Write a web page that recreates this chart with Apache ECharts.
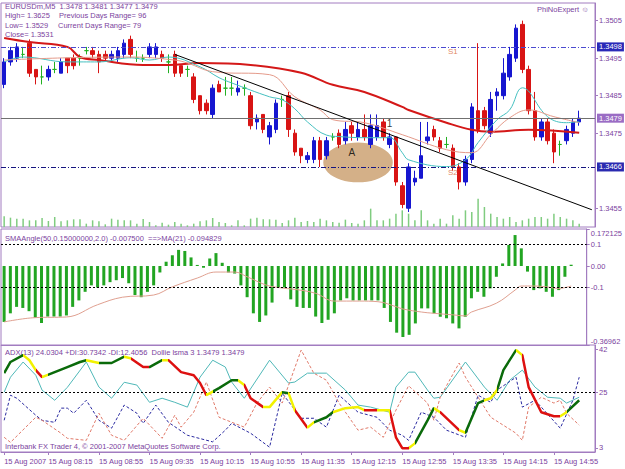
<!DOCTYPE html>
<html><head><meta charset="utf-8">
<script src="https://cdn.jsdelivr.net/npm/echarts@6/dist/echarts.min.js"></script>
<style>html,body{margin:0;padding:0;background:#fff}#c{width:625px;height:469px}</style>
</head><body><div id="c"></div>
<script>
// ---------- DATA ----------
const barTimes = (() => { const a = []; for (let k = 0; k < 94; k++) { const m = 7 * 60 + 40 + 5 * k; a.push(String(Math.floor(m / 60)).padStart(2, '0') + ':' + String(m % 60).padStart(2, '0')); } return a; })();
const timeTicks = ['07:40','08:15','08:55','09:35','10:15','10:55','11:35','12:15','12:55','13:35','14:15','14:55'];
const timeTickLabels = ['15 Aug 2007','15 Aug 08:15','15 Aug 08:55','15 Aug 09:35','15 Aug 10:15','15 Aug 10:55','15 Aug 11:35','15 Aug 12:15','15 Aug 12:55','15 Aug 13:35','15 Aug 14:15','15 Aug 14:55'];
const priceTicks = [1.3455, 1.3475, 1.3485, 1.3495, 1.3505];
const smaTicks = [-0.36962, -0.1, 0, 0.1, 0.172125];
const smaTickLabels = ['-0.36962', '-0.1', '0.00', '0.1', '0.172125'];
const adxTicks = [3, 25, 42];

const open  = [1.3488,1.3494,1.3495,1.3496,1.3499,1.3492,1.3490,1.3490,1.3492,1.3491,1.3495,1.3495,1.3495,1.3497,1.3497,1.3496,1.3496,1.3495,1.3495,1.3496,1.3500,1.3495,1.3495,1.3496,1.3496,1.3496,1.3494,1.3496,1.3493,1.3492,1.3490,1.3485,1.3483,1.3480,1.3488,1.3487,1.3487,1.3486,1.3487,1.3485,1.3478,1.3480,1.3474,1.3476,1.3484,1.3485,1.3475,1.3471,1.3468,1.3468,1.3473,1.3469,1.3474,1.3475,1.3473,1.3477,1.3474,1.3476,1.3472,1.3474,1.3478,1.3472,1.3474,1.3461,1.3455,1.3462,1.3463,1.3473,1.3476,1.3473,1.3472,1.3471,1.3466,1.3462,1.3468,1.3481,1.3481,1.3475,1.3485,1.3485,1.3490,1.3495,1.3504,1.3492,1.3481,1.3474,1.3478,1.3475,1.3472,1.3473,1.3475,1.3478];
const high  = [1.3495,1.3498,1.3499,1.3498,1.3500,1.3492,1.3493,1.3493,1.3494,1.3495,1.3495,1.3496,1.3496,1.3498,1.3498,1.3497,1.3497,1.3497,1.3498,1.3500,1.3501,1.3497,1.3496,1.3499,1.3499,1.3497,1.3496,1.3497,1.3493,1.3493,1.3491,1.3485,1.3484,1.3488,1.3489,1.3490,1.3490,1.3489,1.3488,1.3486,1.3480,1.3480,1.3478,1.3484,1.3485,1.3486,1.3476,1.3471,1.3470,1.3474,1.3474,1.3474,1.3475,1.3476,1.3478,1.3478,1.3478,1.3480,1.3480,1.3480,1.3479,1.3475,1.3474,1.3462,1.3467,1.3465,1.3478,1.3478,1.3477,1.3474,1.3474,1.3472,1.3467,1.3469,1.3483,1.3499,1.3482,1.3486,1.3487,1.3495,1.3498,1.3504,1.3505,1.3493,1.3486,1.3479,1.3479,1.3476,1.3473,1.3477,1.3479,1.3481];
const low   = [1.3487,1.3493,1.3494,1.3495,1.3490,1.3488,1.3488,1.3489,1.3491,1.3491,1.3491,1.3492,1.3493,1.3496,1.3495,1.3491,1.3494,1.3494,1.3494,1.3495,1.3495,1.3494,1.3494,1.3495,1.3495,1.3494,1.3491,1.3490,1.3490,1.3490,1.3483,1.3480,1.3480,1.3479,1.3486,1.3485,1.3485,1.3485,1.3485,1.3476,1.3476,1.3475,1.3472,1.3475,1.3482,1.3474,1.3469,1.3467,1.3467,1.3467,1.3466,1.3468,1.3473,1.3471,1.3472,1.3473,1.3473,1.3473,1.3471,1.3473,1.3473,1.3471,1.3461,1.3455,1.3454,1.3461,1.3463,1.3472,1.3473,1.3470,1.3471,1.3465,1.3460,1.3461,1.3467,1.3475,1.3476,1.3474,1.3481,1.3484,1.3489,1.3494,1.3491,1.3480,1.3473,1.3473,1.3472,1.3467,1.3469,1.3472,1.3474,1.3477];
const close = [1.3494,1.3497,1.3498,1.3496,1.3491,1.3490,1.3490,1.3492,1.3492,1.3494,1.3493,1.3493,1.3495,1.3497,1.3496,1.3494,1.3495,1.3496,1.3497,1.3499,1.3496,1.3495,1.3495,1.3498,1.3498,1.3495,1.3494,1.3491,1.3491,1.3492,1.3484,1.3481,1.3481,1.3487,1.3486,1.3487,1.3487,1.3487,1.3487,1.3477,1.3479,1.3476,1.3477,1.3483,1.3484,1.3476,1.3470,1.3469,1.3469,1.3473,1.3468,1.3473,1.3474,1.3472,1.3476,1.3475,1.3476,1.3474,1.3477,1.3477,1.3474,1.3474,1.3462,1.3456,1.3466,1.3463,1.3469,1.3474,1.3474,1.3471,1.3472,1.3466,1.3462,1.3468,1.3482,1.3476,1.3477,1.3484,1.3486,1.3491,1.3496,1.3503,1.3492,1.3481,1.3474,1.3478,1.3473,1.3470,1.3472,1.3476,1.3478,1.3479];
const volume = [32,28,25,25,20,20,27,18,30,17,20,23,23,10,20,17,8,25,22,20,20,10,24,15,5,13,7,15,10,5,10,17,20,27,15,12,5,20,5,25,28,23,23,22,12,20,28,15,18,15,25,20,15,13,22,12,10,20,55,20,20,25,40,50,40,20,50,20,10,25,10,35,25,50,45,85,60,40,30,25,30,15,20,25,30,30,25,40,30,25,20,10];

const maSlow = [[0,1.35004],[4,1.34993],[10,1.34980],[12,1.34953],[15,1.34945],[22,1.34932],[26,1.34932],[31,1.34937],[39,1.34932],[47,1.34911],[52,1.34879],[57,1.34860],[63,1.34820],[64,1.34812],[70,1.34778],[74,1.34759],[77,1.34754],[83,1.34759],[91,1.34751]];
const maFast = [[0,1.34940],[3,1.34953],[10,1.34940],[15,1.34940],[20,1.34951],[23,1.34945],[26,1.34953],[31,1.34927],[34,1.34898],[36,1.34884],[42,1.34847],[44,1.34839],[46,1.34815],[48,1.34780],[51,1.34745],[53,1.34741],[57,1.34738],[61,1.34738],[63,1.34698],[64,1.34679],[70,1.34661],[73,1.34679],[75,1.34725],[78,1.34786],[80,1.34812],[82,1.34871],[86,1.34794],[89,1.34778],[91,1.34781]];
const maMid = [[0,1.34945],[10,1.34951],[20,1.34953],[27,1.34945],[29,1.34937],[33,1.34914],[42,1.34906],[46,1.34847],[50,1.34812],[52,1.34786],[57,1.34778],[63,1.34746],[70,1.34706],[74,1.34698],[77,1.34746],[80,1.34791],[83,1.34812],[87,1.34794],[91,1.34778]];
const trendLine = [[27,1.34960],[93,1.34546]];
const levels = [1.3498, 1.3479, 1.3466];
const ellipse = [[56, 1.34672, 5.5, 0.00053]];
const notes = [{name:'S1', value:[71,1.34969]}, {name:'S2', value:[71,1.34644]}, {name:'A', value:[55,1.34699]}, {name:'1', value:[61,1.34777]}];

const smaAngle = [-0.26,-0.22,-0.19,-0.195,-0.21,-0.24,-0.265,-0.235,-0.235,-0.235,-0.23,-0.19,-0.16,-0.12,-0.09,-0.10,-0.09,-0.075,-0.066,-0.056,-0.08,-0.135,-0.145,-0.12,-0.09,-0.03,0.02,0.05,0.075,0.07,0.04,0.005,-0.008,0.035,0.06,0.015,-0.03,-0.035,-0.09,-0.145,-0.22,-0.26,-0.23,-0.17,-0.10,-0.10,-0.155,-0.19,-0.195,-0.195,-0.235,-0.265,-0.25,-0.22,-0.16,-0.15,-0.16,-0.16,-0.16,-0.16,-0.16,-0.195,-0.26,-0.31,-0.33,-0.32,-0.267,-0.197,-0.197,-0.22,-0.236,-0.243,-0.267,-0.29,-0.236,-0.15,-0.12,-0.143,-0.104,-0.05,0.012,0.098,0.144,0.082,-0.026,-0.112,-0.104,-0.12,-0.143,-0.112,-0.05,0.006];
const smaMA = [[0,-0.26],[5,-0.24],[10,-0.237],[15,-0.18],[19,-0.145],[24,-0.135],[27,-0.097],[31,-0.056],[34,-0.028],[37,-0.028],[39,-0.05],[42,-0.088],[44,-0.10],[47,-0.11],[50,-0.127],[53,-0.163],[57,-0.163],[60,-0.166],[63,-0.19],[64,-0.20],[67,-0.214],[69,-0.22],[72,-0.227],[74,-0.232],[75,-0.214],[79,-0.173],[82,-0.112],[83,-0.093],[85,-0.093],[87,-0.097],[89,-0.104],[91,-0.093]];

const adxLine = [[0,25.0],[1,30.9],[3,36.9],[5,31.7],[6,25.8],[8,21.8],[10,26.9],[13,36.9],[15,27.0],[17,22.6],[19,28.9],[21,27.8],[23,21.0],[25,22.6],[27,21.0],[29,19.1],[30,25.0],[31,30.9],[33,37.6],[35,34.9],[36,29.0],[38,22.6],[42,37.6],[45,28.6],[46,29.0],[48,32.5],[51,32.5],[54,25.8],[56,19.9],[58,19.1],[61,17.1],[62,27.0],[64,32.9],[65,32.9],[67,25.8],[68,22.6],[69,23.0],[73,36.9],[76,27.0],[78,21.8],[80,29.7],[82,33.7],[84,27.0],[86,23.0],[88,22.6],[89,20.7],[91,23.0]];
const plusDI = [[0,13.9],[1,23.8],[2,22.6],[5,15.9],[6,13.9],[8,13.1],[9,18.7],[10,18.7],[11,16.7],[13,21.8],[15,13.9],[17,10.8],[19,19.9],[21,16.7],[22,12.7],[24,19.9],[26,13.1],[29,8.0],[33,5.4],[35,10.0],[36,12.7],[39,8.8],[42,3.3],[44,24.6],[47,14.7],[49,14.7],[51,11.2],[53,23.8],[56,17.1],[59,15.1],[61,10.0],[63,8.0],[64,6.0],[66,17.1],[68,15.1],[70,10.0],[73,7.2],[75,23.8],[77,21.0],[78,25.8],[81,30.9],[82,19.1],[84,21.8],[85,19.1],[88,10.8],[90,21.8],[91,30.9]];
const minusDI = [[0,7.2],[1,5.2],[5,15.1],[6,13.9],[9,8.8],[10,6.8],[13,6.0],[15,16.7],[17,8.0],[19,6.0],[22,14.7],[25,6.8],[27,15.9],[28,11.2],[30,17.1],[32,29.0],[34,15.1],[38,11.2],[40,20.7],[42,27.0],[44,20.7],[47,41.6],[49,32.5],[51,29.7],[53,20.7],[56,10.0],[58,11.2],[60,7.2],[62,17.9],[64,27.5],[67,20.7],[68,13.9],[69,23.0],[72,36.5],[73,30.9],[77,15.1],[81,8.8],[82,6.0],[83,19.1],[85,23.0],[87,20.7],[88,21.8],[89,16.7],[91,12.0]];
const dollie = [[0,32.5],[1,36.9],[3,39.6],[4,37.6],[5,33.7],[6,30.9],[8,32.9],[10,34.9],[12,36.9],[13,37.6],[15,36.5],[17,36.5],[19,39.0],[20,38.4],[22,34.9],[23,34.9],[25,37.6],[26,37.6],[28,32.9],[30,31.7],[31,28.6],[32,23.8],[34,26.6],[36,29.7],[37,29.7],[38,27.8],[39,22.6],[41,19.1],[42,19.1],[44,25.0],[45,24.6],[46,17.9],[48,11.0],[49,13.1],[51,15.1],[52,17.1],[54,18.7],[56,19.1],[57,17.9],[59,17.9],[61,17.9],[62,7.2],[63,2.9],[64,2.9],[65,4.8],[67,13.9],[68,18.7],[69,17.1],[72,10.0],[73,9.0],[75,20.7],[76,21.8],[77,22.6],[78,25.8],[79,33.7],[81,41.6],[82,39.6],[83,27.0],[85,17.1],[87,15.5],[88,15.5],[89,17.1],[91,21.8]];
const dollieState = [[0,'up'],[3,'flat'],[5,'down'],[6,'flat'],[7,'up'],[13,'flat'],[15,'up'],[19,'flat'],[20,'down'],[23,'up'],[25,'flat'],[26,'down'],[32,'flat'],[33,'up'],[36.5,'flat'],[38,'down'],[41,'flat'],[43.5,'up'],[44.5,'flat'],[46,'down'],[48.3,'flat'],[48.8,'up'],[52,'flat'],[57,'down'],[58.5,'flat'],[61,'down'],[64,'flat'],[65,'up'],[68,'flat'],[69,'down'],[72,'flat'],[73,'up'],[75.5,'flat'],[77.5,'up'],[80.5,'flat'],[81.5,'down'],[87.5,'flat'],[88.5,'up']];

// ---------- STYLE ----------
const TXT = '#7b3f9e', AX = '#a27cc0', FONT = '"Liberation Sans", Arial, sans-serif';
const BULL = '#1616d0', BEAR = '#d81414', DOJI = '#22b022';
const stateColor = {up:'#0a6a0a', flat:'#f2f200', down:'#dd1010'};

const candles = open.map((o, i) => {
  const item = {value:[o, close[i], low[i], high[i]]};
  if (o === close[i]) item.itemStyle = {color:DOJI, color0:DOJI, borderColor:DOJI, borderColor0:DOJI};
  return item;
});
const pieces = dollieState.map((s, k) => ({gte:s[0], lt:(k + 1 < dollieState.length ? dollieState[k + 1][0] : 200), color:stateColor[s[1]]}));

const dashDot = [5, 2, 1, 2];
const levelStyles = [
  {lineStyle:{color:'#4a4ad0', type:dashDot, width:1}, bg:'#2a2ab8'},
  {lineStyle:{color:'#707070', type:'solid', width:1}, bg:'#9a6cc4'},
  {lineStyle:{color:'#141480', type:dashDot, width:1}, bg:'#2a2ab0'}
];

const hiddenX = (g) => ({type:'category', gridIndex:g, data:barTimes, boundaryGap:true, axisLine:{show:false}, axisTick:{show:false}, axisLabel:{show:false}, splitLine:{show:false}});
const rightY = (g, extra) => Object.assign({type:'value', gridIndex:g, position:'right', splitLine:{show:false},
  axisLine:{show:true, lineStyle:{color:AX}}, axisTick:{show:true, length:3, lineStyle:{color:AX}},
  axisLabel:{color:TXT, fontSize:7.5, fontFamily:FONT, margin:4}}, extra);

const chart = echarts.init(document.getElementById('c'), null, {renderer:'svg'});
chart.setOption({
  animation:false,
  backgroundColor:'#ffffff',
  grid:[
    {left:1, top:3, width:594, height:224, show:true, borderColor:AX, borderWidth:1},
    {left:1, top:167, width:594, height:60, show:false},
    {left:1, top:229, width:594, height:116.5, show:true, borderColor:AX, borderWidth:1},
    {left:1, top:345, width:594, height:107, show:true, borderColor:AX, borderWidth:1}
  ],
  xAxis:[hiddenX(0), hiddenX(1), hiddenX(2),
    {type:'category', gridIndex:3, data:barTimes, boundaryGap:true, splitLine:{show:false},
     axisLine:{show:true, lineStyle:{color:AX}},
     axisTick:{show:true, alignWithLabel:true, length:3, interval:(i, v) => timeTicks.includes(v), lineStyle:{color:AX}},
     axisLabel:{show:true, interval:(i, v) => timeTicks.includes(v), formatter:(v) => timeTickLabels[timeTicks.indexOf(v)],
       align:'left', color:TXT, fontSize:7.5, fontFamily:FONT, margin:5}}],
  yAxis:[
    rightY(0, {min:1.3450, max:1.35097, axisLabel:{color:TXT, fontSize:7.5, fontFamily:FONT, margin:4, customValues:priceTicks, formatter:(v) => v.toFixed(4)}, axisTick:{show:true, length:3, customValues:priceTicks, lineStyle:{color:AX}}}),
    {type:'value', gridIndex:1, min:0, max:180, show:false},
    rightY(2, {min:-0.36962, max:0.172125, axisLabel:{color:TXT, fontSize:7.5, fontFamily:FONT, margin:4, customValues:smaTicks, verticalAlignMaxLabel:'top', verticalAlignMinLabel:'bottom', formatter:(v) => smaTickLabels[smaTicks.indexOf(v)]}, axisTick:{show:true, length:3, customValues:smaTicks, lineStyle:{color:AX}}}),
    rightY(3, {min:1.4, max:43.6, axisLabel:{color:TXT, fontSize:7.5, fontFamily:FONT, margin:4, customValues:adxTicks}, axisTick:{show:true, length:3, customValues:adxTicks, lineStyle:{color:AX}}})
  ],
  visualMap:[{type:'piecewise', show:false, dimension:0, seriesIndex:13, pieces:pieces}],
  series:[
    {type:'candlestick', xAxisIndex:0, yAxisIndex:0, data:candles, barWidth:4, z:3,
     itemStyle:{color:BULL, color0:BEAR, borderColor:BULL, borderColor0:BEAR, borderWidth:1}},
    {type:'line', xAxisIndex:0, yAxisIndex:0, data:maSlow, smooth:0.4, symbol:'none', lineStyle:{color:'#d41818', width:2}, z:4,
     markLine:{silent:true, symbol:'none', animation:false, precision:6,
       data:levels.map((lv, k) => ({yAxis:lv, lineStyle:levelStyles[k].lineStyle,
         label:{show:true, position:'end', distance:2, formatter:lv.toFixed(4), color:'#ffffff', backgroundColor:levelStyles[k].bg, padding:[1,2,0,2], fontSize:7.5, fontFamily:FONT}}))}},
    {type:'line', xAxisIndex:0, yAxisIndex:0, data:maFast, smooth:0.4, symbol:'none', lineStyle:{color:'#45c0c0', width:1}, z:4},
    {type:'line', xAxisIndex:0, yAxisIndex:0, data:maMid, smooth:0.4, symbol:'none', lineStyle:{color:'#e49a8a', width:1}, z:4},
    {type:'line', xAxisIndex:0, yAxisIndex:0, data:trendLine, symbol:'none', lineStyle:{color:'#000000', width:1}, z:5},
    {type:'custom', xAxisIndex:0, yAxisIndex:0, data:ellipse, z:1,
     renderItem:(params, api) => {
       const c = api.coord([api.value(0), api.value(1)]);
       const rx = api.size([1, 0])[0] * api.value(2);
       const ry = api.size([0, api.value(3)])[1];
       return {type:'circle', x:c[0], y:c[1], scaleX:rx / ry, scaleY:1, shape:{cx:0, cy:0, r:ry}, style:{fill:'#d4b088'}};
     }},
    {type:'scatter', xAxisIndex:0, yAxisIndex:0, symbolSize:0, z:6,
     data:notes.map(n => ({name:n.name, value:n.value,
       label:{show:true, position:'inside', formatter:'{b}', fontFamily:FONT,
         color:(n.name[0] === 'S' ? '#d9683a' : '#000000'), fontSize:(n.name[0] === 'S' ? 8 : 10)}}))},
    {type:'bar', xAxisIndex:1, yAxisIndex:1, data:volume, barWidth:1.5, itemStyle:{color:'#80cc80'}, z:2},
    {type:'bar', xAxisIndex:2, yAxisIndex:2, data:smaAngle, barWidth:3, itemStyle:{color:'#22a522'},
     markLine:{silent:true, symbol:'none', label:{show:false}, precision:6, lineStyle:{color:'#000000', type:[2,2], width:1}, data:[{yAxis:0.1}, {yAxis:-0.1}]}},
    {type:'line', xAxisIndex:2, yAxisIndex:2, data:smaMA, smooth:0.4, symbol:'none', lineStyle:{color:'#e0a090', width:1}},
    {type:'line', xAxisIndex:3, yAxisIndex:3, data:adxLine, symbol:'none', lineStyle:{color:'#4fb8b8', width:1},
     markLine:{silent:true, symbol:'none', label:{show:false}, lineStyle:{color:'#000000', type:[2,2], width:1}, data:[{yAxis:25}]}},
    {type:'line', xAxisIndex:3, yAxisIndex:3, data:plusDI, symbol:'none', lineStyle:{color:'#2a2aa0', width:1, type:[3,2]}},
    {type:'line', xAxisIndex:3, yAxisIndex:3, data:minusDI, symbol:'none', lineStyle:{color:'#e07a6a', width:1, type:[3,2]}},
    {type:'line', xAxisIndex:3, yAxisIndex:3, data:dollie, symbol:'none', lineStyle:{width:2.5}, z:5}
  ],
  graphic:[
    {type:'text', left:5, top:2.5, style:{text:'EURUSDm,M5  1.3478 1.3481 1.3477 1.3479', fill:TXT, font:'7.5px ' + FONT}},
    {type:'text', left:5, top:11.5, style:{text:'High= 1.3625', fill:TXT, font:'7.5px ' + FONT}},
    {type:'text', left:59, top:11.5, style:{text:'Previous Days Range= 96', fill:TXT, font:'7.5px ' + FONT}},
    {type:'text', left:5, top:21, style:{text:'Low= 1.3529', fill:TXT, font:'7.5px ' + FONT}},
    {type:'text', left:58, top:21, style:{text:'Current Days Range= 79', fill:TXT, font:'7.5px ' + FONT}},
    {type:'text', left:5, top:30, style:{text:'Close= 1.3531', fill:TXT, font:'7.5px ' + FONT}},
    {type:'text', left:537, top:5.5, style:{text:'PhiNoExpert \u263A', fill:TXT, font:'7.5px ' + FONT}},
    {type:'text', left:5, top:234, style:{text:'SMAAngle(50,0.15000000,2.0) -0.007500  ==>MA(21) -0.094829', fill:TXT, font:'7.5px ' + FONT}},
    {type:'text', left:5, top:348, style:{text:'ADX(13) 24.0304 +DI:30.7342 -DI:12.4056  Dollie lsma 3 1.3479 1.3479', fill:TXT, font:'7.5px ' + FONT}},
    {type:'text', left:5, top:442, style:{text:'Interbank FX Trader 4, \u00A9 2001-2007 MetaQuotes Software Corp.', fill:TXT, font:'7.5px ' + FONT}}
  ]
});
</script></body></html>
